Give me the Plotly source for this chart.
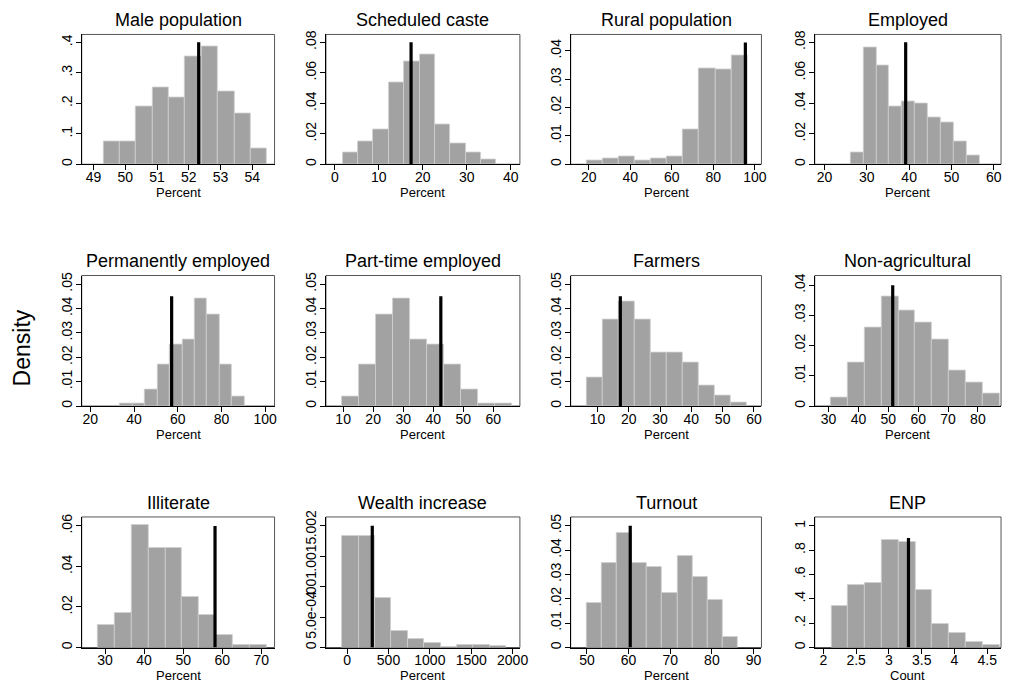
import plotly.graph_objects as go
import numpy as np

W, H = 1013, 687          # browser window
OFF = 8                   # default page body margin
WF, HF = W - OFF, H - OFF # figure size

titles = ["Male population", "Scheduled caste", "Rural population", "Employed",
          "Permanently employed", "Part-time employed", "Farmers", "Non-agricultural",
          "Illiterate", "Wealth increase", "Turnout", "ENP"]
xtitles = ["Percent"] * 11 + ["Count"]

# histogram densities (10 bins each)
male_pop = [.074, .075, .189, .251, .22, .355, .386, .24, .167, .053]
sched_caste = [.008, .0151, .0226, .0539, .0675, .072, .0259, .014, .008, .0032]
rural_pop = [.0015, .0021, .0029, .0015, .0021, .0029, .0123, .0339, .0333, .0385]
employed = [.0075, .077, .0647, .038, .0414, .0397, .0306, .0272, .0147, .0056]
perm_emp = [.0011, .0011, .0066, .0171, .0253, .0272, .0441, .0376, .0171, .0038]
part_emp = [.004, .0171, .0376, .0441, .0272, .0253, .0171, .0066, .0011, .0011]
farmers = [.0116, .0354, .0429, .0354, .0221, .0221, .0178, .0085, .0043, .0013]
non_agri = [.0029, .0145, .026, .0362, .0315, .0277, .022, .0116, .0078, .0041]
illiterate = [.0112, .0172, .0603, .0491, .0491, .0248, .0162, .0063, .0015, .0015]
wealth_inc = [.00184, .00183, .00081, .00027, .00014, .00007, .000016, .00005, .000043, .000032]
turnout = [.0181, .0346, .047, .0346, .0332, .0222, .0374, .029, .0195, .0043]
enp = [.338, .514, .53, .884, .868, .473, .197, .122, .043, .022]
densities = [male_pop, sched_caste, rural_pop, employed, perm_emp, part_emp,
             farmers, non_agri, illiterate, wealth_inc, turnout, enp]

# first bin edge and bin width
bin_start = [49.31, 1.74, 18.9, 26.15, 33.5, 9.67, 6.42, 30.77, 28.1, -60, 49.83, 2.121]
bin_width = [0.515, 3.5, 7.75, 3.04, 5.71, 5.65, 5.11, 5.64, 4.33, 198, 3.64, 0.2565]

# reference (vertical line) values and their heights
ref_value = [52.31, 17.33, 95.45, 39.18, 57.2, 42.55, 17.3, 51.47, 58.16, 304, 60.4, 3.298]
ref_height = [.4, .08, .043, .08, .045, .045, .045, .04, .06, .002, .05, .9]

# tick values / labels
xticks = [[49, 50, 51, 52, 53, 54], [0, 10, 20, 30, 40], [20, 40, 60, 80, 100],
          [20, 30, 40, 50, 60], [20, 40, 60, 80, 100], [10, 20, 30, 40, 50, 60],
          [10, 20, 30, 40, 50, 60], [30, 40, 50, 60, 70, 80], [30, 40, 50, 60, 70],
          [0, 500, 1000, 1500, 2000], [50, 60, 70, 80, 90], [2, 2.5, 3, 3.5, 4, 4.5]]
yticks = [[0, .1, .2, .3, .4], [0, .02, .04, .06, .08], [0, .01, .02, .03, .04],
          [0, .02, .04, .06, .08], [0, .01, .02, .03, .04, .05], [0, .01, .02, .03, .04, .05],
          [0, .01, .02, .03, .04, .05], [0, .01, .02, .03, .04], [0, .02, .04, .06],
          [0, .0005, .001, .0015, .002], [0, .01, .02, .03, .04, .05], [0, .2, .4, .6, .8, 1]]
ytext = [["0", ".1", ".2", ".3", ".4"], ["0", ".02", ".04", ".06", ".08"],
         ["0", ".01", ".02", ".03", ".04"], ["0", ".02", ".04", ".06", ".08"],
         ["0", ".01", ".02", ".03", ".04", ".05"], ["0", ".01", ".02", ".03", ".04", ".05"],
         ["0", ".01", ".02", ".03", ".04", ".05"], ["0", ".01", ".02", ".03", ".04"],
         ["0", ".02", ".04", ".06"], ["0", "5.0e-04", ".001", ".0015", ".002"],
         ["0", ".01", ".02", ".03", ".04", ".05"], ["0", ".2", ".4", ".6", ".8", "1"]]

xranges = [[48.625, 54.7], [-2.03, 42.08], [11.26, 103.2], [17.7, 61.7],
           [16.05, 104.3], [4.27, 68.9], [1.44, 62.4], [25.35, 87.75],
           [24.03, 73.4], [-256, 2088], [46.1, 91.9], [1.868, 4.71]]
ytops = [.426, .0852, .0458, .0852, .0535, .0535, .0535, .0432, .0644, .002146, .0536, 1.073]

# pixel layout of plot frames (window coordinates)
col_px = [(82.3, 276.7), (328.5, 524.0), (575.2, 767.5), (821.2, 1009.0)]
row_px = [(27.7, 159.3), (272.0, 404.3), (516.7, 649.0)]


def fx(px):
    return (px - OFF) / WF


def fy(py):
    return 1 - (py - OFF) / HF


FONT = "Arial, Liberation Sans, sans-serif"
fig = go.Figure()
shapes = []
annotations = []

for i in range(12):
    r, c = divmod(i, 4)
    k = "" if i == 0 else str(i + 1)
    xa, ya = "x" + k, "y" + k
    x0p, x1p = col_px[c]
    y0p, y1p = row_px[r]
    xd = [fx(x0p), fx(x1p)]
    yd = [fy(y1p), fy(y0p)]

    dens = np.array(densities[i])
    centers = bin_start[i] + bin_width[i] * (np.arange(len(dens)) + 0.5)
    fig.add_trace(go.Bar(x=centers, y=dens, width=bin_width[i],
                         marker=dict(color="#a2a2a2", line=dict(color="#cfcfcf", width=0.8)),
                         xaxis=xa, yaxis=ya, showlegend=False, hoverinfo="skip"))
    fig.add_trace(go.Scatter(x=[ref_value[i], ref_value[i]], y=[0, ref_height[i]],
                             mode="lines", line=dict(color="black", width=3.2),
                             xaxis=xa, yaxis=ya, showlegend=False, hoverinfo="skip"))

    fig.layout["xaxis" + k] = dict(domain=xd, anchor=ya, range=xranges[i],
                                   tickvals=xticks[i], ticks="outside", ticklen=5,
                                   ticklabelstandoff=-5,
                                   tickcolor="black", showgrid=False, zeroline=False,
                                   showline=True, linecolor="black", linewidth=1,
                                   tickfont=dict(family=FONT, size=14, color="black"))
    fig.layout["yaxis" + k] = dict(domain=yd, anchor=xa, range=[0, ytops[i]],
                                   tickvals=yticks[i], ticktext=ytext[i], ticks="outside",
                                   ticklen=5, tickcolor="black", tickangle=-90,
                                   ticklabelstandoff=-2,
                                   showgrid=False, zeroline=False, showline=True,
                                   linecolor="black", linewidth=1,
                                   tickfont=dict(family=FONT, size=14, color="black"))
    shapes.append(dict(type="rect", xref="paper", yref="paper",
                       x0=xd[0], x1=xd[1], y0=yd[0], y1=yd[1],
                       line=dict(color="#555555", width=1), layer="below"))
    annotations.append(dict(text=titles[i], xref="paper", yref="paper",
                            x=(xd[0] + xd[1]) / 2, y=fy(y0p - 14.5),
                            xanchor="center", yanchor="middle", showarrow=False,
                            font=dict(family=FONT, size=18, color="black")))
    annotations.append(dict(text=xtitles[i], xref="paper", yref="paper",
                            x=(xd[0] + xd[1]) / 2, y=fy(y1p + 28.5),
                            xanchor="center", yanchor="middle", showarrow=False,
                            font=dict(family=FONT, size=13, color="black")))

annotations.append(dict(text="Density", xref="paper", yref="paper", x=fx(22), y=fy(345),
                        xanchor="center", yanchor="middle", textangle=-90, showarrow=False,
                        font=dict(family=FONT, size=23, color="black")))

fig.update_layout(width=WF, height=HF, margin=dict(l=0, r=0, t=0, b=0),
                  paper_bgcolor="white", plot_bgcolor="white", bargap=0,
                  shapes=shapes, annotations=annotations)
fig.write_html("out.html")
